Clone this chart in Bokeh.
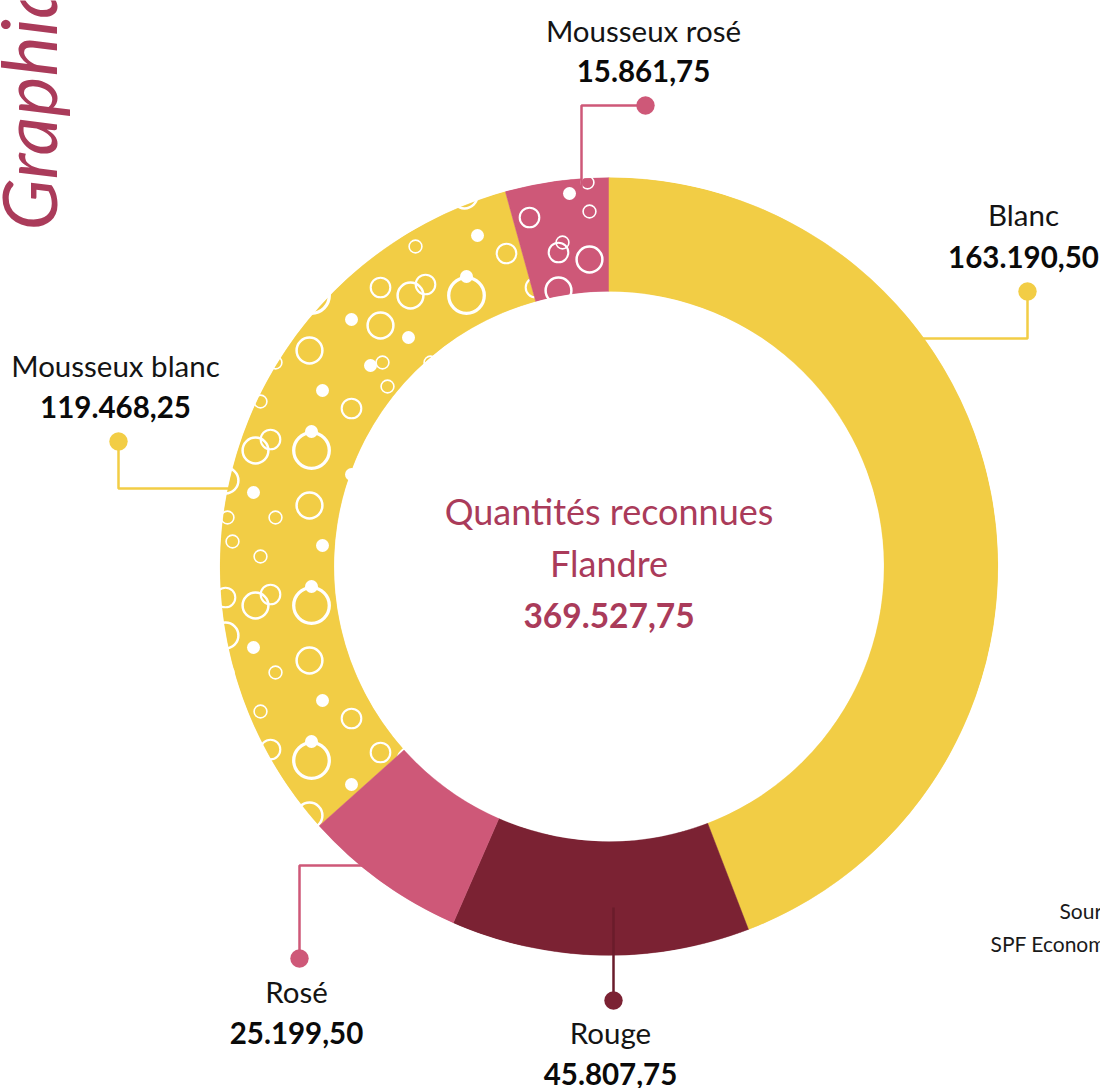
import math
import numpy as np
from bokeh.plotting import figure
from bokeh.models import Range1d, ColumnDataSource
from bokeh.core.properties import value
from bokeh.embed import file_html
from bokeh.resources import INLINE

# ---------------- data ----------------
categories = ["Blanc", "Rouge", "Rosé", "Mousseux blanc", "Mousseux rosé"]
quantities = [163190.50, 45807.75, 25199.50, 119468.25, 15861.75]
center_title = ["Quantités reconnues", "Flandre"]
side_title = "Graphique"
source_lines = ["Source :", "SPF Economie"]


def fmt(v):
    s = f"{v:,.2f}"
    return s.replace(",", "X").replace(".", ",").replace("X", ".")


value_labels = [fmt(v) for v in quantities]
total_label = fmt(sum(quantities))

# ---------------- styles / layout ----------------
YELLOW, WINE, PINK, TITLE = "#F2CD45", "#7B2233", "#CE5878", "#AA3B5A"
colors = [YELLOW, WINE, PINK, YELLOW, PINK]
line_colors = [YELLOW, "#6A1C2B", PINK, YELLOW, PINK]
dot_colors = [YELLOW, WINE, PINK, YELLOW, PINK]
sparkling = [False, False, False, True, True]
FONT = value("Lato")
BASE_SHIFT = 0.40   # empirical baseline correction (fraction of font size)

W, H = 1100, 1088
CX, CY = 608.5, 566.0          # screen position of the donut centre
R_OUT, R_IN = 389.0, 275.0


def X(sx):
    return sx - CX


def Y(sy):
    return CY - sy


def TY(sy, fs):
    # text anchor for a wanted screen baseline
    return Y(sy - BASE_SHIFT * fs)


# leader paths (screen coords, first point = dot)
leaders = [
    [(1027, 291), (1027, 338), (863, 338)],
    [(613, 1000), (613, 907)],
    [(299, 958), (299, 865), (412, 865)],
    [(118, 441), (118, 488), (228, 488)],
    [(645, 105), (581, 105), (581, 205)],
]
# label centre x, name baseline, value baseline (screen)
label_pos = [
    (1023, 226, 268),
    (610, 1044, 1085),
    (296, 1003, 1044),
    (115, 377, 418),
    (643, 42, 82),
]

# bubble texture tiles (offsets in px inside a 155 px tile, y downwards)
TILE = 155.0
tile_anchor = {3: (311.0, 605.0), 4: (558.0, 290.0)}
tile_dx = {3: [0, 0, -2, -58, -36, 76, -51, 11, -56, -41, 69, 69, 40, 40, 59, 71],
           4: [0, 31, 0, 4, -29, 31, 11, 29]}
tile_dy = {3: [0, -19, 55, 42, 67, -64, -49, -60, 0, -11, -8, 30, -42, 24, 70, 67],
           4: [0, -31, -38, -48, -73, -79, -97, -108]}
tile_kind = {3: ["big", "dot", "r13", "dot", "r6", "r6", "r6", "dot",
                 "r13", "r10", "r10", "r13", "r10", "dot", "dot", "r6"],
             4: ["r13", "r13", "r10", "r6", "r10", "r6", "dot", "r6"]}
kind_radius = {"big": 17.8, "r13": 12.9, "r10": 9.8, "r6": 6.4, "dot": 6.5}
kind_width = {"big": 3.3, "r13": 2.5, "r10": 2.1, "r6": 1.6, "dot": 0}

# ---------------- figure ----------------
p = figure(width=W, height=H, x_range=Range1d(X(0), X(W)),
           y_range=Range1d(Y(H), Y(0)), output_backend="svg",
           toolbar_location=None, min_border=0,
           x_axis_location=None, y_axis_location=None)
p.grid.visible = False
p.outline_line_color = None
p.background_fill_color = "white"
p.border_fill_color = "white"

total = sum(quantities)
cum = np.concatenate([[0.0], np.cumsum(quantities)]) / total
start = math.pi / 2 - 2 * math.pi * cum[1:]
end = math.pi / 2 - 2 * math.pi * cum[:-1]


def wedge(idx):
    src = ColumnDataSource(dict(start=[start[i] for i in idx],
                                end=[end[i] for i in idx],
                                color=[colors[i] for i in idx]))
    p.annular_wedge(x=0, y=0, inner_radius=R_IN, outer_radius=R_OUT,
                    start_angle="start", end_angle="end", fill_color="color",
                    line_color="color", line_width=0.5, source=src)


def bubbles(seg, own_only):
    lo, hi = cum[seg], cum[seg + 1]
    ax, ay = tile_anchor[seg]
    rx, ry, rr, rw, dx_, dy_, dr = [], [], [], [], [], [], []
    for i in range(-5, 6):
        for j in range(-5, 6):
            for dx, dy, k in zip(tile_dx[seg], tile_dy[seg], tile_kind[seg]):
                x, y = X(ax + i * TILE + dx), Y(ay + j * TILE + dy)
                rad = kind_radius[k] + kind_width[k] / 2
                d = math.hypot(x, y)
                if d < R_IN - rad or d > R_OUT + rad:
                    continue
                f = (math.atan2(x, y) % (2 * math.pi)) / (2 * math.pi)
                m = 0 if own_only else (rad / max(d, 1)) / (2 * math.pi)
                if not ((lo - m <= f <= hi + m) or (hi >= 0.999 and f <= m)):
                    continue
                if k == "dot":
                    dx_.append(x); dy_.append(y); dr.append(kind_radius[k])
                else:
                    rx.append(x); ry.append(y); rr.append(kind_radius[k])
                    rw.append(kind_width[k])
    p.circle(x="x", y="y", radius="r", fill_alpha=0, line_color="white",
             line_width="w", source=ColumnDataSource(dict(x=rx, y=ry, r=rr, w=rw)))
    p.circle(x="x", y="y", radius="r", fill_color="white", line_color=None,
             source=ColumnDataSource(dict(x=dx_, y=dy_, r=dr)))


# sparkling segments with their bubble texture
wedge([3])
bubbles(3, own_only=False)
wedge([4])
bubbles(4, own_only=True)
# plain segments, drawn over the bubble overflow
wedge([i for i in range(len(categories)) if not sparkling[i]])

# masks clipping the bubbles to the ring
p.annulus(x=0, y=0, inner_radius=R_OUT + 0.3, outer_radius=R_OUT + 40,
          fill_color="white", line_color=None)
p.circle(x=0, y=0, radius=R_IN - 0.3, fill_color="white", line_color=None)

# leader lines and dots
p.multi_line(xs=[[X(a) for a, b in L] for L in leaders],
             ys=[[Y(b) for a, b in L] for L in leaders],
             line_color=line_colors, line_width=2.5)
p.circle(x=[X(L[0][0]) for L in leaders], y=[Y(L[0][1]) for L in leaders],
         radius=9.2, fill_color=dot_colors, line_color=None)

# labels
LFS = 29.5
p.text(x=[X(c[0]) for c in label_pos], y=[TY(c[1], LFS) for c in label_pos],
       text=categories, text_font=FONT, text_font_size=f"{LFS}px",
       text_align="center", text_baseline="alphabetic", text_color="#141414")
p.text(x=[X(c[0]) for c in label_pos], y=[TY(c[2], LFS) for c in label_pos],
       text=value_labels, text_font=FONT, text_font_size=f"{LFS}px",
       text_font_style="bold", text_align="center",
       text_baseline="alphabetic", text_color="#0a0a0a")

# centre
CFS, NFS = 36, 33.5
p.text(x=[0, 0], y=[TY(525, CFS), TY(577, CFS)], text=center_title,
       text_font=FONT, text_font_size=f"{CFS}px", text_align="center",
       text_baseline="alphabetic", text_color=TITLE)
p.text(x=[0], y=[TY(628, NFS)], text=[total_label], text_font=FONT,
       text_font_size=f"{NFS}px", text_font_style="bold", text_align="center",
       text_baseline="alphabetic", text_color=TITLE)

# side title and source (cut by the page edge)
GFS = 76
p.text(x=[X(57 - BASE_SHIFT * GFS)], y=[Y(230)], text=[side_title],
       angle=math.pi / 2, text_font=FONT, text_font_size=f"{GFS}px",
       text_font_style="italic", text_align="left",
       text_baseline="alphabetic", text_color=TITLE)
SFS = 21
p.text(x=[X(1059), X(990)], y=[TY(918, SFS), TY(951, SFS)], text=source_lines,
       text_font=FONT, text_font_size=f"{SFS}px", text_align="left",
       text_baseline="alphabetic", text_color="#1a1a1a")

open("out.html", "w").write(file_html(p, INLINE))
